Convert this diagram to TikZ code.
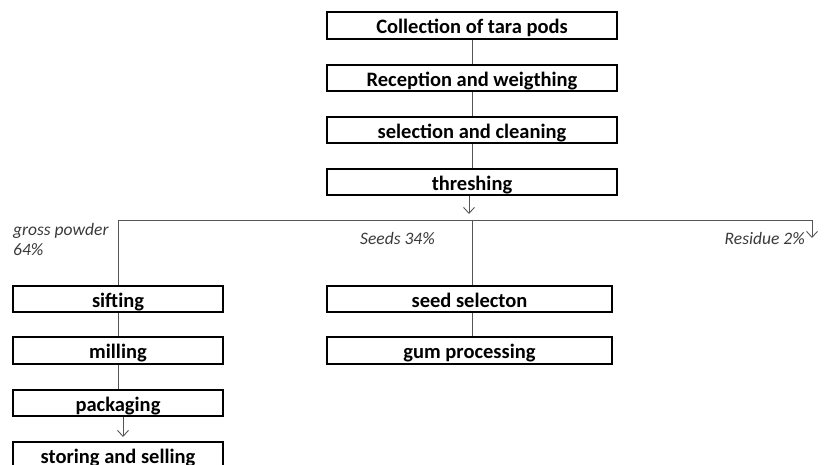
\documentclass[tikz,border=0pt]{standalone}
\usepackage{fontspec}
\setmainfont{Carlito}
\usetikzlibrary{arrows.meta}
\definecolor{linegray}{HTML}{555555}
\definecolor{lblgray}{HTML}{3A3A3A}
\tikzset{
  box/.style={draw=black, line width=1.6pt, minimum height=26.5pt, inner sep=0pt,
    text height=16.5pt, text depth=0pt,
    font=\fontsize{20.5}{22}\selectfont\bfseries},
  wide/.style={box, minimum width=290pt},
  narrow/.style={box, minimum width=210pt},
  conn/.style={draw=linegray, line width=0.9pt},
  arr/.style={conn, -{Straight Barb[length=6pt,width=11pt,line width=0.9pt]}},
  lbl/.style={font=\fontsize{17.5}{20}\selectfont\itshape, text=lblgray, inner sep=0pt, align=left}
}
\begin{document}
\begin{tikzpicture}[x=1pt,y=-1pt]
\useasboundingbox (0,0) rectangle (832,465);
\node[wide] (collect) at (472,25.5) {Collection of tara pods};
\node[wide] (recept) at (472,78) {Reception and weigthing};
\node[wide] (select) at (472,130) {selection and cleaning};
\node[wide] (thresh) at (472,182) {threshing};
\coordinate (tip) at (469,214);
\coordinate (jc) at (472,220);
\coordinate (jl) at (118,220);
\coordinate (jr) at (812,220);
\coordinate (rtip) at (812,238);
\node[narrow] (sift) at (118,299) {sifting};
\node[narrow] (mill) at (118,350.5) {milling};
\node[narrow] (pack) at (118,403) {packaging};
\node[narrow] (store) at (118,455.5) {storing and selling};
\coordinate (ptip) at (123,437);
\node[box, minimum width=285pt] (seedsel) at (469.5,299) {seed selecton};
\node[box, minimum width=285pt] (gum) at (469.5,350.5) {gum processing};
\node[lbl, anchor=base west] (gp) at (13,235) {gross powder};
\node[lbl, anchor=base west] (gp2) at (13,255) {64\%};
\node[lbl, anchor=base west] (sd) at (360,244) {Seeds 34\%};
\node[lbl, anchor=base east] (rs) at (805,244) {Residue 2\%};
\draw[conn] (collect) -- (recept);
\draw[conn] (recept) -- (select);
\draw[conn] (select) -- (thresh);
\draw[arr] (thresh.south -| tip) -- (tip);
\draw[conn] (jl) -- (jr);
\draw[arr] (jr) -- (rtip);
\draw[conn] (jl) -- (sift.north -| jl);
\draw[conn] (sift) -- (mill);
\draw[conn] (mill) -- (pack);
\draw[arr] (pack.south -| ptip) -- (ptip);
\draw[conn] (jc) -- (jc |- seedsel.north);
\draw[conn] (seedsel.south -| jc) -- (gum.north -| jc);
\end{tikzpicture}
\end{document}
